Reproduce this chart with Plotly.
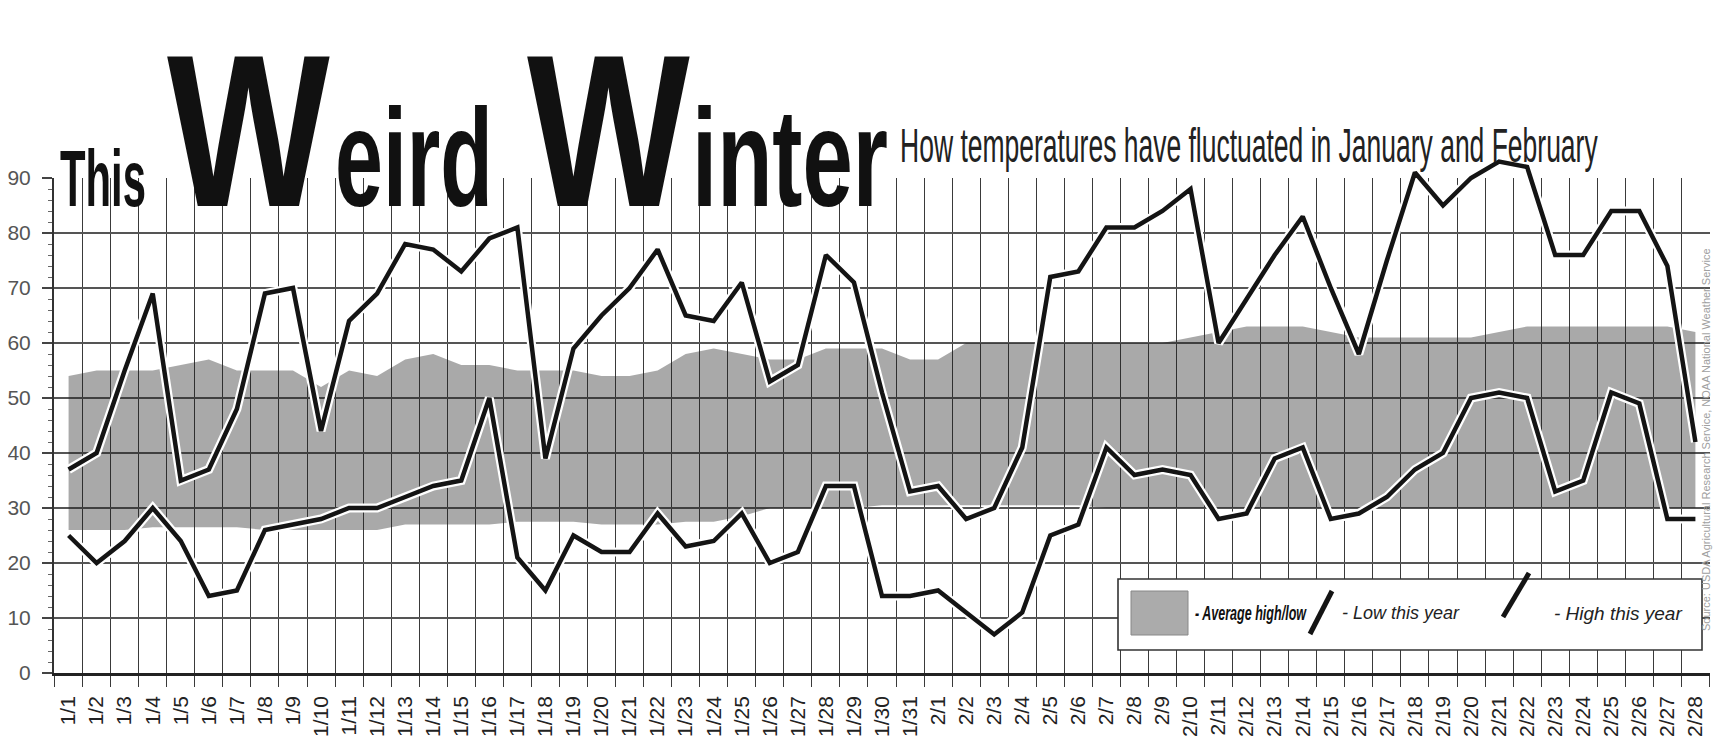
import json
import plotly.graph_objects as go

# ---------------- data ----------------
dates = [f"1/{d}" for d in range(1, 32)] + [f"2/{d}" for d in range(1, 29)]

high_this_year = [37, 40, 55, 69, 35, 37, 48, 69, 70, 44,
                  64, 69, 78, 77, 73, 79, 81, 39, 59, 65,
                  70, 77, 65, 64, 71, 53, 56, 76, 71, 51, 33,
                  34, 28, 30, 41, 72, 73, 81, 81, 84, 88,
                  60, 68, 76, 83, 70, 58, 75, 91, 85, 90,
                  93, 92, 76, 76, 84, 84, 74, 42]

low_this_year = [25, 20, 24, 30, 24, 14, 15, 26, 27, 28,
                 30, 30, 32, 34, 35, 50, 21, 15, 25, 22,
                 22, 29, 23, 24, 29, 20, 22, 34, 34, 14, 14,
                 15, 11, 7, 11, 25, 27, 41, 36, 37, 36,
                 28, 29, 39, 41, 28, 29, 32, 37, 40, 50,
                 51, 50, 33, 35, 51, 49, 28, 28]

avg_high = [54, 55, 55, 55, 56, 57, 55, 55, 55, 52,
            55, 54, 57, 58, 56, 56, 55, 55, 55, 54,
            54, 55, 58, 59, 58, 57, 57, 59, 59, 59, 57,
            57, 60, 60, 60, 60, 60, 60, 60, 60, 61,
            62, 63, 63, 63, 62, 61, 61, 61, 61, 61,
            62, 63, 63, 63, 63, 63, 63, 62]

avg_low = [26, 26, 26, 26.5, 26.5, 26.5, 26.5, 26, 26, 26,
           26, 26, 27, 27, 27, 27, 27.5, 27.5, 27.5, 27,
           27, 27, 27.5, 27.5, 28.5, 30, 30, 30, 30, 30.5, 30.5,
           30.5, 30.5, 30.5, 30.5, 30.5, 30.5, 30, 30, 30, 30,
           30, 30, 30, 30, 30, 30, 30, 30, 30, 30,
           30, 30, 30, 30, 30, 30, 30, 30]

y_ticks = [0, 10, 20, 30, 40, 50, 60, 70, 80, 90]

title_words = ["This", "W", "eird", "W", "inter"]
subtitle = "How temperatures have fluctuated in January and February"
legend_labels = ["- Average high/low", "- Low this year", "- High this year"]
source_text = "Source: USDA Agricultural Research Service, NOAA National Weather Service"

# ---------------- geometry (page pixels; the page body adds an 8px offset) ----------------
OFF = 8
W, H = 1706, 728
ML, MR, MT, MB = 46, 4, 100, 63
PW, PH = W - ML - MR, H - MT - MB
PX_PER_UNIT = 5.5
D = 90 * PX_PER_UNIT / PH          # fraction of plot height used by the 0-90 grid


def px(x):
    return (x - OFF - ML) / PW


def py(y):
    return (H - MB - (y - OFF)) / PH


BAND = "rgba(30,30,30,0.38)"
INK = "#141414"

fig = go.Figure()

# average band (grid subplot)
fig.add_trace(go.Scatter(x=dates, y=avg_low, mode="lines", line=dict(width=0, color=BAND),
                         hoverinfo="skip", showlegend=False, xaxis="x", yaxis="y"))
fig.add_trace(go.Scatter(x=dates, y=avg_high, mode="lines", line=dict(width=0, color=BAND),
                         fill="tonexty", fillcolor=BAND, name="Average high/low",
                         showlegend=False, xaxis="x", yaxis="y"))

# this year's lines with white halo (overlay subplot that may rise above 90)
for series, name in ((low_this_year, "Low this year"), (high_this_year, "High this year")):
    fig.add_trace(go.Scatter(x=dates, y=series, mode="lines", line=dict(width=9, color="white"),
                             hoverinfo="skip", showlegend=False, xaxis="x2", yaxis="y2"))
    fig.add_trace(go.Scatter(x=dates, y=series, mode="lines", line=dict(width=4.5, color=INK),
                             name=name, showlegend=False, xaxis="x2", yaxis="y2"))

fig.update_layout(
    width=W, height=H,
    margin=dict(l=ML, r=MR, t=MT, b=MB, pad=0, autoexpand=False),
    paper_bgcolor="white", plot_bgcolor="rgba(0,0,0,0)",
    font=dict(family="Liberation Sans, Arial, sans-serif", color="#222"),
    showlegend=False,
    xaxis=dict(
        domain=[0, 1], anchor="y", automargin=False,
        type="category", range=[-0.52, 58.52], tickson="boundaries",
        showgrid=True, gridcolor="#3a3a3a", gridwidth=1.4,
        ticks="outside", ticklen=11, tickcolor="#3a3a3a", tickwidth=1.4,
        tickangle=-90, tickfont=dict(size=21, color="#222"), ticklabelstandoff=12,
        showline=True, linecolor="#222", linewidth=2.5, zeroline=False,
    ),
    yaxis=dict(
        domain=[0, D], anchor="x", automargin=False,
        range=[0, 90], tickvals=y_ticks,
        showgrid=True, gridcolor="#555", gridwidth=1.5, zeroline=False,
        ticks="outside", ticklen=10, tickcolor="#444", tickwidth=1.5,
        tickfont=dict(size=21, color="#555"), ticklabelstandoff=7,
        minor=dict(tickvals=list(range(0, 91, 2)), ticks="outside", ticklen=4,
                   tickcolor="#666", tickwidth=1, showgrid=False),
        showline=True, linecolor="#333", linewidth=2,
    ),
    xaxis2=dict(domain=[0, 1], anchor="y2", matches="x", type="category",
                visible=False, showgrid=False, automargin=False),
    yaxis2=dict(domain=[0, 1], anchor="x2", range=[0, 90 / D],
                visible=False, showgrid=False, automargin=False),
)

shapes = []
# legend box
shapes.append(dict(type="rect", xref="paper", yref="paper", x0=px(1118), x1=px(1702),
                   y0=py(650), y1=py(579), fillcolor="white",
                   line=dict(color="#333", width=1.6), layer="above"))
shapes.append(dict(type="rect", xref="paper", yref="paper", x0=px(1131), x1=px(1188),
                   y0=py(635), y1=py(591), fillcolor="#ababab",
                   line=dict(color="#888", width=1), layer="above"))
shapes.append(dict(type="line", xref="paper", yref="paper", x0=px(1310), y0=py(634),
                   x1=px(1332), y1=py(591), line=dict(color=INK, width=5), layer="above"))
shapes.append(dict(type="line", xref="paper", yref="paper", x0=px(1503), y0=py(617),
                   x1=px(1529), y1=py(573), line=dict(color=INK, width=5), layer="above"))
fig.update_layout(shapes=shapes)

annotations = []
fit = {}   # annotation index -> [left px, baseline px, width px, vertical scale] (condensed display type)


def add_text(text, left, baseline, size, width, vscale=1.0, weight="bold", style="normal", color="#111"):
    fit[str(len(annotations))] = [left, baseline, width, vscale]
    annotations.append(dict(
        text=text, xref="paper", yref="paper", x=px(left), y=py(baseline),
        xanchor="left", yanchor="bottom", yshift=-(0.212 * size + 1),
        showarrow=False,
        font=dict(family="Liberation Sans, Arial, sans-serif", size=size, color=color,
                  weight=weight, style=style),
    ))


add_text(title_words[0], 60, 206, 80, 86)
add_text(title_words[1], 167, 206, 217, 163)
add_text(title_words[2], 335, 206, 140, 158)
add_text(title_words[3], 527, 206, 217, 163)
add_text(title_words[4], 692, 206, 140, 196)
add_text(subtitle, 900, 162, 49, 698, weight="normal", color="#222")
add_text(legend_labels[0], 1195, 620, 20, 112, style="italic")

annotations.append(dict(text=legend_labels[1], xref="paper", yref="paper", x=px(1340), y=py(613),
                        xanchor="left", yanchor="middle", showarrow=False,
                        font=dict(family="Liberation Sans, Arial", size=18, color="#222", style="italic")))
annotations.append(dict(text=legend_labels[2], xref="paper", yref="paper", x=px(1552), y=py(613),
                        xanchor="left", yanchor="middle", showarrow=False,
                        font=dict(family="Liberation Sans, Arial", size=19, color="#222", style="italic")))
annotations.append(dict(text=source_text, xref="paper", yref="paper", x=px(1706), y=py(440),
                        xanchor="center", yanchor="middle", textangle=-90, showarrow=False,
                        font=dict(family="Liberation Sans, Arial", size=11, color="#a0a0a0")))
fig.update_layout(annotations=annotations)

post = """
var gd = document.getElementById('{plot_id}');
var T = %s;
function place(){
  var anns = gd.querySelectorAll('g.annotation');
  for (var i = 0; i < anns.length; i++) {
    var a = anns[i];
    var spec = T[a.getAttribute('data-index')];
    if (!spec) continue;
    var t = a.querySelector('text');
    if (!t) continue;
    var orig = t.getAttribute('data-orig-tf');
    if (orig === null) { orig = t.getAttribute('transform') || ''; t.setAttribute('data-orig-tf', orig); }
    t.setAttribute('transform', orig);
    var bb = t.getBBox();
    var m = t.getScreenCTM();
    var y0 = parseFloat(t.getAttribute('y'));
    if (isNaN(y0)) y0 = bb.y + bb.height * 0.81;
    var sx = spec[2] / bb.width, sy = spec[3];
    var tx = (spec[0] - m.e) / m.a, ty = (spec[1] - m.f) / m.d;
    t.setAttribute('transform', orig + ' translate(' + tx + ',' + ty + ') scale(' + sx + ',' + sy +
                   ') translate(' + (-bb.x) + ',' + (-y0) + ')');
  }
}
place();
gd.on('plotly_afterplot', place);
""" % json.dumps(fit)

fig.write_html("out.html", post_script=post)
